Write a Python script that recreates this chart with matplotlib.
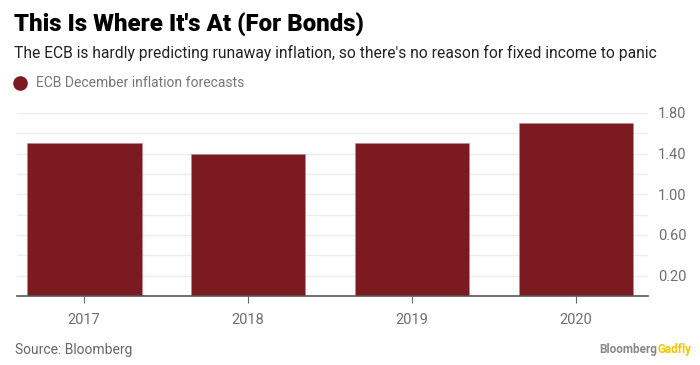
"""ECB December inflation forecasts, Bloomberg Gadfly style bar chart."""

import matplotlib.pyplot as plt
from matplotlib.lines import Line2D
import numpy as np

plt.rcParams.update({
    "font.family": ["Roboto", "DejaVu Sans"],
    "font.size": 10,
})

# ── Data ─────────────────────────────────────────────────────────────
years = ["2017", "2018", "2019", "2020"]
forecast = [1.5, 1.4, 1.5, 1.7]
ytick_vals = [0.2, 0.6, 1.0, 1.4, 1.8]
grid_vals = [0.2, 0.4, 0.6, 0.8, 1.0, 1.2, 1.4, 1.6, 1.8]

BAR = "#7b1a21"
GREY = "#6f6f6f"
W, H = 700, 365

fig = plt.figure(figsize=(7, 3.65), dpi=100)
ax = fig.add_axes([17 / W, 1 - 296 / H, (648 - 17) / W, (296 - 113) / H])

x = np.arange(len(years))
ax.bar(x, forecast, width=0.70, color=BAR, edgecolor="#b88a8e",
       linewidth=0.4, zorder=3)

for g in grid_vals:
    ax.axhline(g, color="#ececec", linewidth=1.0, zorder=1)

ax.set_xlim(-0.41, 3.44)
ax.set_ylim(0, 1.8)
ax.set_xticks(x)
ax.set_xticklabels(years, color=GREY, fontsize=10.5)
ax.tick_params(axis="x", length=5, width=0.8, color="#666666", pad=7)

ax.yaxis.tick_right()
ax.set_yticks(ytick_vals)
ax.set_yticklabels([f"{v:.2f}" for v in ytick_vals], color=GREY, fontsize=10.5)
ax.tick_params(axis="y", length=0, pad=7)

for s in ["top", "left", "right"]:
    ax.spines[s].set_visible(False)
ax.spines["bottom"].set_color("#555555")
ax.spines["bottom"].set_linewidth(1.2)
ax.spines["bottom"].set_zorder(4)

# ── Header ───────────────────────────────────────────────────────────
fig.text(14 / W, 1 - 25 / H, "This Is Where It's At (For Bonds)",
         fontsize=17.3, fontweight="black", color="black", va="center")
fig.text(14 / W, 1 - 53 / H,
         "The ECB is hardly predicting runaway inflation, so there's no reason for fixed income to panic",
         fontsize=11.25, color="#222222", va="center")
fig.add_artist(Line2D([20 / W], [1 - 83 / H], marker="o", markersize=9.5,
                      color=BAR, linestyle="none", transform=fig.transFigure))
fig.text(36 / W, 1 - 83 / H, "ECB December inflation forecasts",
         fontsize=10, color="#777777", va="center")

# ── Footer ───────────────────────────────────────────────────────────
fig.text(15 / W, 1 - 350 / H, "Source: Bloomberg", fontsize=10,
         color="#666666", va="center")
fig.text(657 / W, 1 - 350 / H, "Bloomberg", fontsize=8.5,
         color="#888888", va="center", ha="right", fontweight="bold")
fig.text(657 / W, 1 - 350 / H, "Gadfly", fontsize=8.5, color="#f2c500",
         va="center", ha="left", fontweight="bold")

fig.savefig("out.png", dpi=100)
